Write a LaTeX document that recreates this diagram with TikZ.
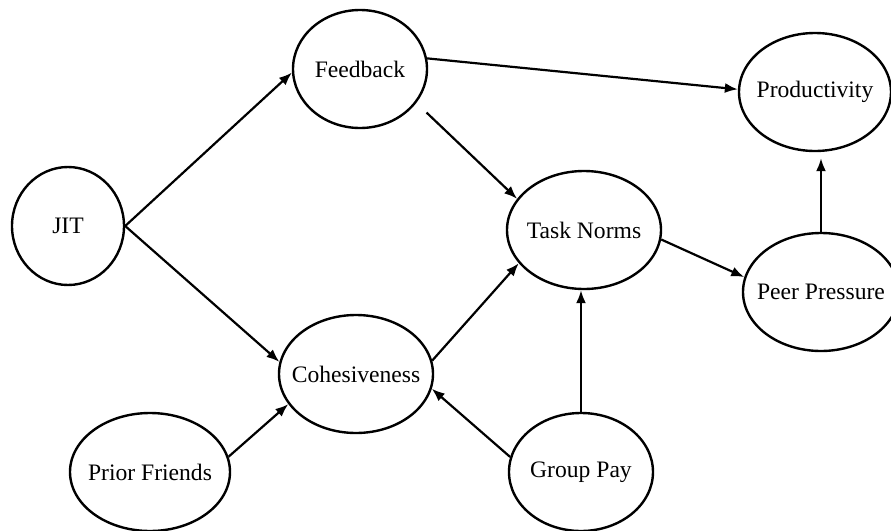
\documentclass[tikz,border=0pt]{standalone}
\usepackage{fontspec}
\setmainfont{Liberation Serif}
\usetikzlibrary{shapes.geometric,arrows.meta}

\begin{document}
\begin{tikzpicture}[x=0.5pt,y=-0.5pt,
  var/.style={draw,ellipse,line width=1.2pt,inner xsep=-6pt,inner ysep=0pt,
    minimum height=59pt,font=\fontsize{11.8}{14}\selectfont},
  link/.style={-{Latex[length=6.5pt,width=5pt]},line width=1.1pt}]

  \useasboundingbox (0,0) rectangle (891,531);

  % ====================================================
  % VARIABLES
  % ====================================================
  \node[var,minimum width=56pt] (jit) at (68,226) {JIT};
  \node[var,minimum width=67pt] (feedback) at (360,69) {Feedback};
  \node[var,minimum width=76pt] (prod) at (815,92) {Productivity};
  \node[var,minimum width=77pt] (norms) at (584,230) {Task Norms};
  \node[var,minimum width=78pt] (peer) at (821,292) {Peer Pressure};
  \node[var,minimum width=77pt] (cohes) at (356,374) {Cohesiveness};
  \node[var,minimum width=80pt] (friends) at (150,472) {Prior Friends};
  \node[var,minimum width=72pt] (pay) at (581,472) {Group Pay};

  % ====================================================
  % PATHS
  % ====================================================
  \draw[link] (jit.east) -- (feedback.183);
  \draw[link] (jit.east) -- (cohes.171);
  \draw[link] (feedback.9) -- (prod.178);
  \draw[link,shorten <=7pt] (feedback.-31) -- (norms.155);
  \draw[link] (cohes.10) -- (norms.207);
  \draw[link] (pay.north) -- (pay.north |- norms.south);
  \draw[link] (pay.168) -- (cohes.-11);
  \draw[link] (friends.11) -- (cohes.204);
  \draw[link] (norms.-7) -- (peer.169);
  \draw[link,shorten >=3pt] (peer.north) -- (prod.south -| peer.north);
\end{tikzpicture}
\end{document}
